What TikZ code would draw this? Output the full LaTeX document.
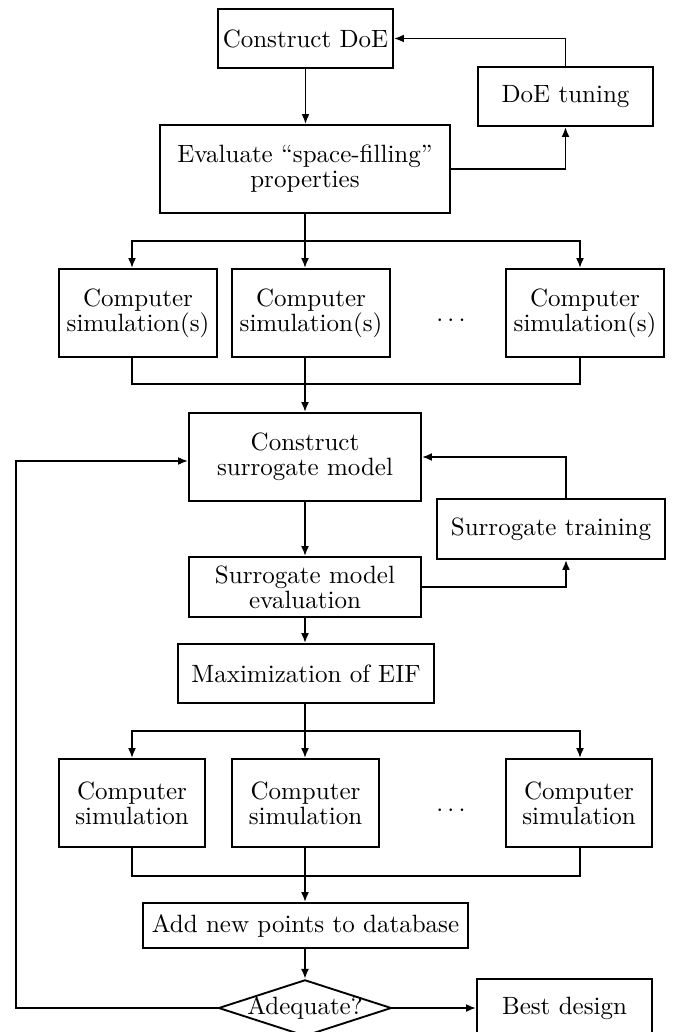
\documentclass[tikz,border=0pt]{standalone}
\usetikzlibrary{arrows.meta,shapes.geometric}
\begin{document}
\begin{tikzpicture}[x=0.4pt,y=-0.4pt,
  box/.style={draw,line width=0.75pt,align=center,inner sep=1pt,
    font=\fontsize{10}{10}\selectfont},
  arr/.style={-{Latex[length=4pt,width=3.2pt]}},
  every path/.style={line width=0.75pt}]
\useasboundingbox (0,0) rectangle (676,1032);
% top part
\node[box,minimum width=70pt,minimum height=23.6pt] (doe) at (305.5,38.5) {Construct DoE};
\node[box,minimum width=70pt,minimum height=23.6pt] (tune) at (565.5,96.5) {DoE tuning};
\node[box,minimum width=116pt,minimum height=35.2pt] (eval) at (305,169) {Evaluate ``space-filling''\\properties};
\node[box,minimum width=63.2pt,minimum height=35.2pt] (cs1) at (138,313) {Computer\\simulation(s)};
\node[box,minimum width=63.2pt,minimum height=35.2pt] (cs2) at (311,313) {Computer\\simulation(s)};
\node[box,minimum width=63.2pt,minimum height=35.2pt] (cs3) at (585,313) {Computer\\simulation(s)};
\node[font=\fontsize{10}{10}\selectfont] (dots1) at (451,321) {$\cdots$};
\coordinate (s1) at (305,241);
\coordinate (m1) at (305,384);
% surrogate part
\node[box,minimum width=92.8pt,minimum height=35.2pt] (csm) at (305,457) {Construct\\surrogate model};
\node[box,minimum width=91.2pt,minimum height=24pt] (st) at (551,529) {Surrogate training};
\node[box,minimum width=92.8pt,minimum height=24pt] (sme) at (305,587) {Surrogate model\\evaluation};
\node[box,minimum width=102.4pt,minimum height=23.6pt] (eif) at (306,673.5) {Maximization of EIF};
\node[box,minimum width=58.4pt,minimum height=35.2pt] (sl1) at (132,803) {Computer\\simulation};
\node[box,minimum width=58.8pt,minimum height=35.2pt] (sl2) at (305.5,803) {Computer\\simulation};
\node[box,minimum width=58.4pt,minimum height=35.2pt] (sl3) at (579,803) {Computer\\simulation};
\node[font=\fontsize{10}{10}\selectfont] (dots2) at (451,811) {$\cdots$};
\coordinate (s2) at (305,731);
\coordinate (m2) at (305,876);
\node[box,minimum width=130pt,minimum height=18pt] (add) at (305.5,925.5) {Add new points to database};
\node[box,shape=diamond,aspect=3.07,inner sep=-0.6pt,minimum width=68.8pt,minimum height=22.4pt] (adq) at (305,1008) {Adequate?};
\node[box,minimum width=70pt,minimum height=23.6pt] (best) at (564.5,1008.5) {Best design};
\coordinate (lp) at (16,1008);
% connectors top
\draw[arr] (doe.south) -- (doe.south |- eval.north);
\draw[arr] (eval.east) -| (tune.south);
\draw[arr] (tune.north) |- (doe.east);
\draw (eval.south) -- (s1);
\draw[arr] (s1) -| ([xshift=-2.4pt]cs1.north);
\draw[arr] (s1) -- (s1 |- cs2.north);
\draw[arr] (s1) -| ([xshift=-2pt]cs3.north);
\draw ([xshift=-2.4pt]cs1.south) |- (m1);
\draw ([xshift=-2pt]cs3.south) |- (m1);
\draw (m1 |- cs2.south) -- (m1);
\draw[arr] (m1) -- (m1 |- csm.north);
% connectors surrogate
\draw[arr] (csm.south) -- (csm.south |- sme.north);
\draw[arr] (sme.east) -| ([xshift=6pt]st.south);
\draw[arr] ([xshift=6pt]st.north) |- (csm.east);
\draw[arr] (sme.south) -- (sme.south |- eif.north);
\draw (eif.south -| s2) -- (s2);
\draw[arr] (s2) -| (sl1.north);
\draw[arr] (s2) -- (s2 |- sl2.north);
\draw[arr] (s2) -| ([xshift=0.4pt]sl3.north);
\draw (sl1.south) |- (m2);
\draw ([xshift=0.4pt]sl3.south) |- (m2);
\draw (m2 |- sl2.south) -- (m2);
\draw[arr] (m2) -- (m2 |- add.north);
\draw[arr] (add.south -| adq.north) -- (adq.north);
\draw[arr] (adq.east) -- (adq.east -| best.west);
\draw[arr] (adq.west) -- (lp) |- ([yshift=-1.6pt]csm.west);
\end{tikzpicture}
\end{document}
